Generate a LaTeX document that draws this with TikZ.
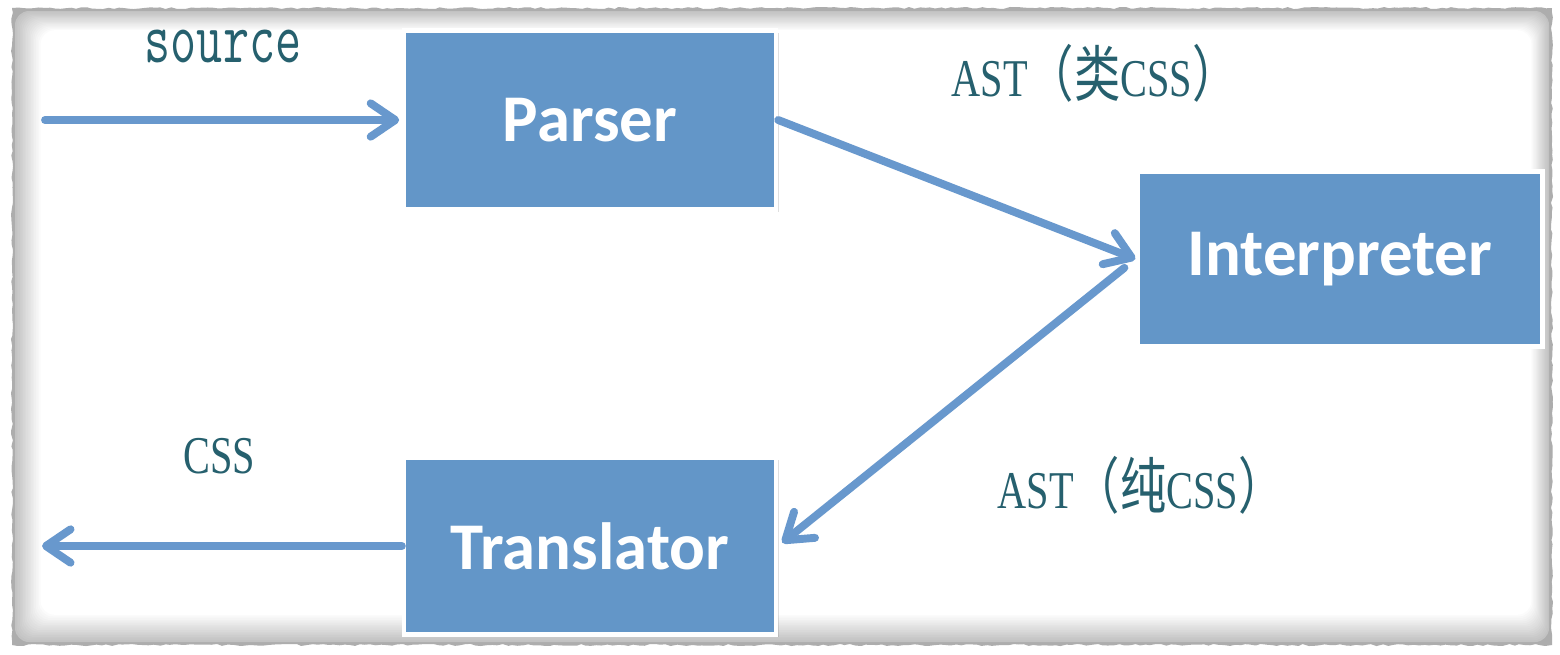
\documentclass[tikz,border=0pt]{standalone}
\usepackage{fontspec}
\setmainfont{Liberation Serif}
\setsansfont{Carlito}
\newfontfamily\cjk{Noto Sans CJK SC}
\usetikzlibrary{arrows.meta,shadows,decorations.pathmorphing}
\definecolor{boxblue}{RGB}{99,150,200}
\definecolor{arrowblue}{RGB}{104,152,205}
\definecolor{labteal}{RGB}{38,96,110}
\tikzset{
  stagebox/.style={draw=white, line width=2.5pt, fill=boxblue,
    minimum width=7.44cm, minimum height=3.58cm, inner sep=0pt,
    font=\sffamily\bfseries\fontsize{38pt}{38pt}\selectfont, text=white,
    drop shadow={shadow xshift=1.5pt, shadow yshift=-1.5pt, opacity=0.25}},
  flow/.style={draw=arrowblue, line width=4.5pt, line cap=round,
    -{Straight Barb[length=14pt,width=19pt,round]}},
  lab/.style={text=labteal, inner sep=0pt, anchor=base},
}
\newcommand{\serlab}[1]{\scalebox{0.85}[1.12]{\fontsize{27pt}{27pt}\selectfont #1}}
\newcommand{\cjkpar}[1]{{\cjk\fontsize{31pt}{31pt}\selectfont #1}}
\begin{document}
\begin{tikzpicture}[x=0.02cm,y=-0.02cm]
\useasboundingbox (0,0) rectangle (1560,654);
\fill[white] (0,0) rectangle (1560,654);
% paper frame
\fill[black!32, decorate, decoration={random steps, segment length=3pt, amplitude=0.6pt}]
  (12,8) rectangle (1552,645);
\foreach \i in {0,...,16}{
  \pgfmathsetmacro{\sh}{24-\i*24/16}
  \fill[black!\sh, rounded corners=8pt]
    (15+1.6*\i,11+1.2*\i) rectangle (1549-1.1*\i,642-1.7*\i);
}
% boxes
\node[stagebox] (parser) at (590,120) {Parser};
\node[stagebox, minimum width=8.1cm, minimum height=3.5cm] (interp) at (1340,259) {Interpreter};
\node[stagebox, minimum height=3.54cm] (trans) at (590,546) {Translator};
% free ends
\coordinate (src) at (45,120);
\coordinate (out) at (42,546);
% connectors
\draw[flow, shorten >=1.5pt] (src) -- (parser.west);
\draw[flow] (parser.east) -- (interp.west);
\draw[flow, shorten <=8pt, shorten >=3pt] (interp.west) -- (trans.east);
\draw[flow] (trans.west) -- (out);
% labels
\node[lab] (lsrc) at (223,62) {\scalebox{0.72}[1.05]{\ttfamily\fontsize{40pt}{40pt}\selectfont source}};
\node[lab] (last1) at (1095,96) {\serlab{AST\cjkpar{（类}CSS\cjkpar{）}}};
\node[lab] (last2) at (1141,508) {\serlab{AST\cjkpar{（纯}CSS\cjkpar{）}}};
\node[lab] (lcss) at (219,473) {\serlab{CSS}};
\end{tikzpicture}
\end{document}
